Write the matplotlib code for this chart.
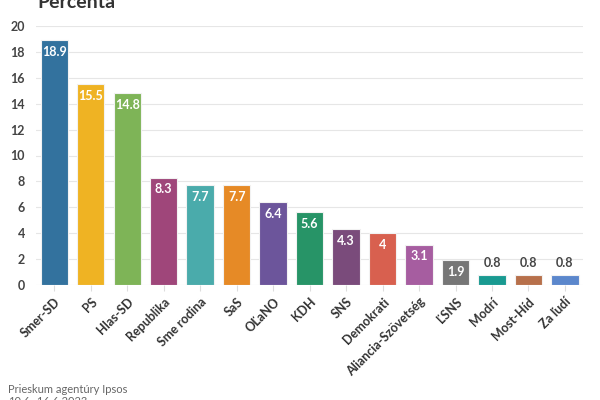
import numpy as np
import matplotlib.pyplot as plt

parties = ['Smer-SD', 'PS', 'Hlas-SD', 'Republika', 'Sme rodina', 'SaS', 'OĽaNO',
           'KDH', 'SNS', 'Demokrati', 'Aliancia-Szövetség', 'ĽSNS', 'Modrí',
           'Most-Híd', 'Za ľudí']
values = [18.9, 15.5, 14.8, 8.3, 7.7, 7.7, 6.4, 5.6, 4.3, 4, 3.1, 1.9, 0.8, 0.8, 0.8]
labels = ['18.9', '15.5', '14.8', '8.3', '7.7', '7.7', '6.4', '5.6', '4.3', '4',
          '3.1', '1.9', '0.8', '0.8', '0.8']
colors = ['#33729e', '#efb323', '#7eb457', '#9f467a', '#4aabab', '#e68a26', '#6c559b',
          '#279467', '#7a4b7b', '#d8604f', '#a65da0', '#767676', '#199a91',
          '#b7704b', '#5b87cc']

plt.rcParams['font.family'] = ['Lato', 'DejaVu Sans']

def run():
  fig = plt.figure(figsize=(6, 4), dpi=100)
  ax = fig.add_axes([0.06, 0.2875, 0.912, 0.6475])
  x = np.arange(len(parties))
  ax.bar(x, values, width=0.75, color=colors, edgecolor='#f2f2f2', linewidth=0.8, zorder=3)
  ax.set_xlim(-0.5, len(parties) - 0.5)
  ax.set_ylim(0, 20)
  ax.set_yticks(np.arange(0, 21, 2))
  ax.grid(axis='y', color='#e6e6e6', linewidth=0.8, zorder=0)
  for s in ax.spines.values():
    s.set_visible(False)
  ax.tick_params(axis='y', length=0, labelsize=9, labelcolor='#444444', pad=8)
  ax.tick_params(axis='x', length=4, color='#dddddd', labelsize=9, labelcolor='#333333')
  ax.set_xticks(x)
  ax.set_xticklabels(parties, rotation=45, ha='right', rotation_mode='anchor', fontweight='bold')
  for lab in ax.get_yticklabels():
    lab.set_fontweight('bold')
  for i, v in enumerate(values):
    if v >= 1.5:
      ax.annotate(labels[i], (x[i], v), xytext=(0, -4), textcoords='offset points',
                  ha='center', va='top', color='white', fontsize=9, fontweight='bold', zorder=4)
    else:
      ax.annotate(labels[i], (x[i], v), xytext=(0, 4), textcoords='offset points',
                  ha='center', va='bottom', color='#444444', fontsize=9, fontweight='bold', zorder=4)
  fig.text(0.062, 0.995, 'Percenta', fontsize=14, fontweight='bold', color='#333333', va='center')
  fig.text(0.013, 0.027, 'Prieskum agentúry Ipsos', fontsize=8, color='#666666', va='center')
  fig.text(0.013, -0.003, '10.6.-16.6.2023', fontsize=8, color='#666666', va='center')
  fig.savefig('out.png', dpi=100)

if __name__ == '__main__':
  run()
